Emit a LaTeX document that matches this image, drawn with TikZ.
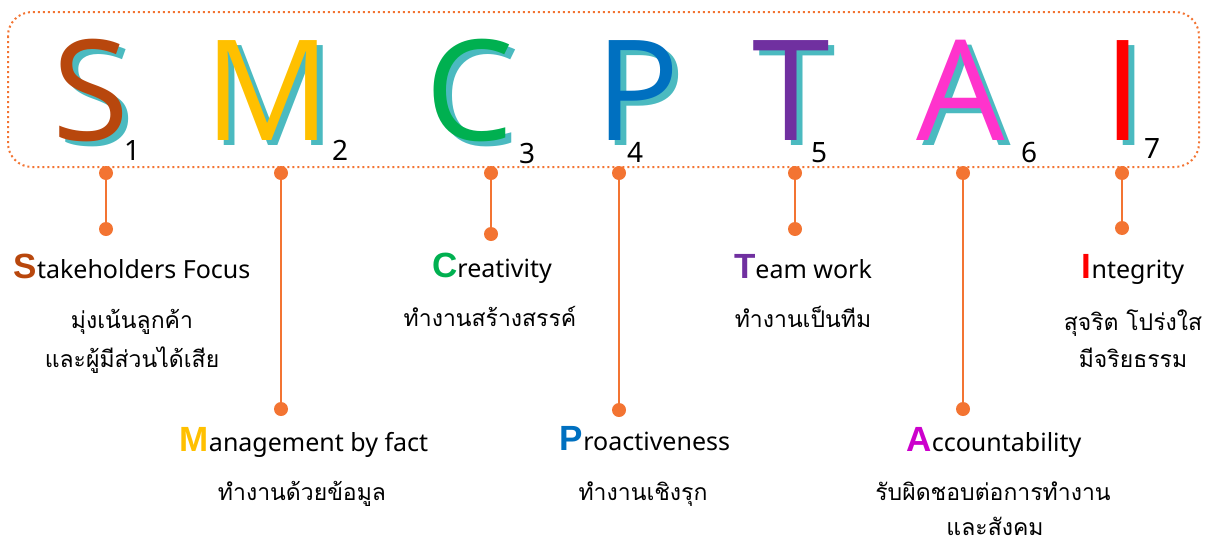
\documentclass[tikz,border=0pt]{standalone}
\usepackage{fontspec}
\setmainfont{Noto Sans}
\newfontfamily\thaifont[Script=Thai]{Loma}
\newfontfamily\bigfont{Open Sans}
\newfontfamily\inifont{Liberation Sans}
\definecolor{orng}{HTML}{F37432}
\definecolor{shad}{HTML}{4BBAC0}
\definecolor{cS}{HTML}{B8470D}
\definecolor{cM}{HTML}{FFC000}
\definecolor{cC}{HTML}{00B050}
\definecolor{cP}{HTML}{0070C0}
\definecolor{cT}{HTML}{7030A0}
\definecolor{cA}{HTML}{FF33CC}
\definecolor{cAl}{HTML}{CC00CC}
\definecolor{cI}{HTML}{FF0000}
\newcommand\myini[2]{{\inifont\bfseries\fontsize{35}{35}\selectfont\color{#1}#2}}
\begin{document}
\begin{tikzpicture}[x=1pt,y=-1pt,
  big/.style={anchor=base,inner sep=0pt,text depth=0pt,font=\bigfont\fontsize{140}{140}\selectfont},
  sub/.style={anchor=base west,inner sep=0pt,font=\fontsize{28}{28}\selectfont},
  dot/.style={circle,fill=orng,inner sep=0pt,minimum size=14pt},
  conn/.style={draw=orng,line width=1.3pt},
  lbl/.style={anchor=base,inner sep=0pt,font=\fontsize{25}{25}\selectfont},
  th/.style={anchor=base,inner sep=0pt,font=\thaifont\fontsize{23}{23}\selectfont}]
\useasboundingbox (0,0) rectangle (1207,544);
\draw[orng,line width=2pt,dash pattern=on 2pt off 3pt,rounded corners=24pt] (8,12) rectangle (1199,167);
% big letters
\foreach \L/\x/\c/\n in {S/91/cS/1, M/268/cM/2, C/470/cC/3, P/638/cP/4, T/791/cT/5, A/961/cA/6, I/1123/cI/7}{
  \node[big,text=shad] (sh\n) at (\x+6,145) {\L};
  \node[big,text=\c] (bl\n) at (\x,140) {\L};
}
\node[sub] (n1) at (124,160) {1};
\node[sub] (n2) at (332,160) {2};
\node[sub] (n3) at (519,163) {3};
\node[sub] (n4) at (627,162) {4};
\node[sub] (n5) at (811,162) {5};
\node[sub] (n6) at (1021,162) {6};
\node[sub] (n7) at (1144,158) {7};
% dots and connectors
\foreach \n/\x/\y in {1/106/229, 2/281/409, 3/491/234, 4/619/410, 5/795/229, 6/963/409, 7/1122/228}{
  \node[dot] (t\n) at (\x,173) {};
  \node[dot] (b\n) at (\x,\y) {};
  \draw[conn] (t\n) -- (b\n);
}
% labels
\node[lbl] (l1) at (132,278) {\myini{cS}{S}takeholders Focus};
\node[th] (a1) at (132,328) {มุ่งเน้นลูกค้า};
\node[th] (c1) at (132,367) {และผู้มีส่วนได้เสีย};
\node[lbl] (l2) at (304,451) {\myini{cM}{M}anagement by fact};
\node[th] (a2) at (302,500) {ทำงานด้วยข้อมูล};
\node[lbl] (l3) at (492,277) {\myini{cC}{C}reativity};
\node[th] (a3) at (490,326) {ทำงานสร้างสรรค์};
\node[lbl] (l4) at (645,450) {\myini{cP}{P}roactiveness};
\node[th] (a4) at (643,500) {ทำงานเชิงรุก};
\node[lbl] (l5) at (803,278) {\myini{cT}{T}eam work};
\node[th] (a5) at (803,327) {ทำงานเป็นทีม};
\node[lbl] (l6) at (994,451) {\myini{cAl}{A}ccountability};
\node[th] (a6) at (993,500) {รับผิดชอบต่อการทำงาน};
\node[th] (c6) at (995,535) {และสังคม};
\node[lbl] (l7) at (1133,278) {\myini{cI}{I}ntegrity};
\node[th] (a7) at (1133,330) {สุจริต โปร่งใส};
\node[th] (c7) at (1133,367) {มีจริยธรรม};
\end{tikzpicture}
\end{document}
